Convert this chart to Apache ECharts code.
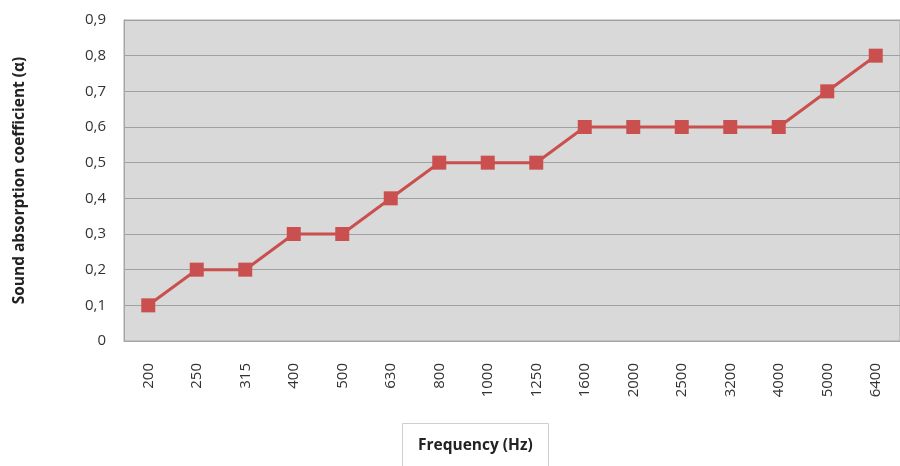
<!DOCTYPE html>
<html><head><meta charset="utf-8">
<script src="https://cdn.jsdelivr.net/npm/echarts@6/dist/echarts.min.js"></script>
<style>html,body{margin:0;padding:0;background:#fff}#c{width:900px;height:466px}</style>
</head><body><div id="c"></div>
<script>
const categories = ['200','250','315','400','500','630','800','1000','1250','1600','2000','2500','3200','4000','5000','6400'];
const values = [0.1,0.2,0.2,0.3,0.3,0.4,0.5,0.5,0.5,0.6,0.6,0.6,0.6,0.6,0.7,0.8];
const yTitle = 'Sound absorption coefficient (\u03b1)';
const xTitle = 'Frequency (Hz)';
const FONT = 'Open Sans, Lato, sans-serif';
const chart = echarts.init(document.getElementById('c'));
chart.setOption({
  animation: false,
  textStyle: {fontFamily: FONT},
  title: {
    text: xTitle, left: 402, top: 423,
    padding: [15, 16, 24, 16],
    borderColor: '#cfcfcf', borderWidth: 1, backgroundColor: '#fff',
    textStyle: {fontFamily: FONT, fontSize: 15.5, fontWeight: 'bold', color: '#222'}
  },
  grid: {left: 124, right: -1, top: 20, bottom: 125, show: true,
    backgroundColor: '#d9d9d9', borderColor: '#a6a6a6', borderWidth: 1},
  xAxis: {
    type: 'category', data: categories, boundaryGap: true,
    axisLine: {show: true, lineStyle: {color: '#a6a6a6', width: 1}},
    axisTick: {show: false},
    axisLabel: {rotate: 90, margin: 22, fontSize: 15, color: '#333', fontFamily: FONT}
  },
  yAxis: {
    type: 'value', min: 0, max: 0.9, interval: 0.1,
    name: yTitle, nameLocation: 'middle', nameGap: 96,
    nameTextStyle: {fontSize: 15.5, fontWeight: 'bold', color: '#222', fontFamily: FONT},
    axisLine: {show: true, lineStyle: {color: '#a6a6a6'}},
    axisTick: {show: false},
    splitLine: {lineStyle: {color: '#a0a0a0', width: 1}},
    axisLabel: {margin: 18, fontSize: 15, color: '#333', fontFamily: FONT,
      formatter: v => String(Math.round(v * 10) / 10).replace('.', ',')}
  },
  series: [{
    type: 'line', data: values,
    symbol: 'rect', symbolSize: 14,
    lineStyle: {color: '#c9504e', width: 3},
    itemStyle: {color: '#c9504e'}
  }]
});
</script></body></html>
